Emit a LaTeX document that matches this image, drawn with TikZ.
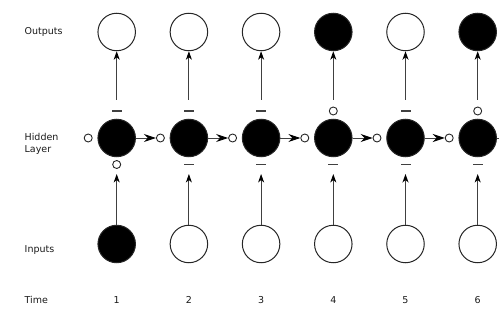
\documentclass[tikz,border=0pt]{standalone}
\usepackage{fontspec}
\setmainfont{DejaVu Sans}
\usetikzlibrary{arrows.meta}
\begin{document}
\begin{tikzpicture}[x=1pt,y=-1pt,
  bigcirc/.style={circle, draw=black!85, line width=1pt, minimum size=37.5pt, inner sep=0pt},
  filled/.style={bigcirc, fill=black},
  hollow/.style={bigcirc, fill=white},
  smalldot/.style={circle, draw=black!85, line width=0.9pt, minimum size=8pt, inner sep=0pt, fill=white},
  dashbar/.style={rectangle, fill=black!75, minimum width=10pt, minimum height=1.9pt, inner sep=0pt},
  vconn/.style={draw=black!75, line width=0.9pt, -{Stealth[length=8.5pt,width=6pt,inset=2.5pt,color=black]}},
  hconn/.style={draw=black!75, line width=0.9pt, -{Stealth[length=12pt,width=8pt,inset=4pt,color=black]}},
  lbl/.style={anchor=base west, inner sep=0pt, text=black!90, font=\fontsize{9.5}{12}\selectfont},
  num/.style={anchor=base, inner sep=0pt, text=black!90, font=\fontsize{9.5}{12}\selectfont}]
\useasboundingbox (0,0) rectangle (499,323);
\clip (0,0) rectangle (499,323);
% row labels
\node[lbl] (lout) at (24.5,35) {Outputs};
\node[lbl] (lhid) at (24.5,140.5) {Hidden};
\node[lbl] (llay) at (24.5,152.5) {Layer};
\node[lbl] (linp) at (24.5,252.7) {Inputs};
\node[lbl] (ltime) at (24.5,304) {Time};
% columns
\foreach \i/\o/\t/\b/\n in {1/hollow/dashbar/smalldot/filled,
                            2/hollow/dashbar/dashbar/hollow,
                            3/hollow/dashbar/dashbar/hollow,
                            4/filled/smalldot/dashbar/hollow,
                            5/hollow/dashbar/dashbar/hollow,
                            6/filled/smalldot/dashbar/hollow}{
  \pgfmathsetmacro{\x}{116.7+72.2*(\i-1)}
  \node[\o] (out\i) at (\x,32) {};
  \node[filled] (hid\i) at (\x,138) {};
  \node[\n] (in\i) at (\x,244) {};
  \node[\t] (top\i) at (\x,111) {};
  \node[\b] (bot\i) at (\x,164.5) {};
  \node[smalldot] (lm\i) at (\x-28.5,138) {};
  \coordinate (os\i) at (\x,100);
  \coordinate (it\i) at (\x,174);
  \draw[vconn] (os\i) -- (out\i.south);
  \draw[vconn] (in\i.north) -- (it\i);
  \node[num] (t\i) at (\x,304) {\i};
}
\foreach \i/\j in {1/2,2/3,3/4,4/5,5/6}{
  \draw[hconn] (hid\i.east) -- (lm\j.west);
}
\coordinate (endr) at (520,138);
\draw[hconn] (hid6.east) -- (endr);
\end{tikzpicture}
\end{document}
